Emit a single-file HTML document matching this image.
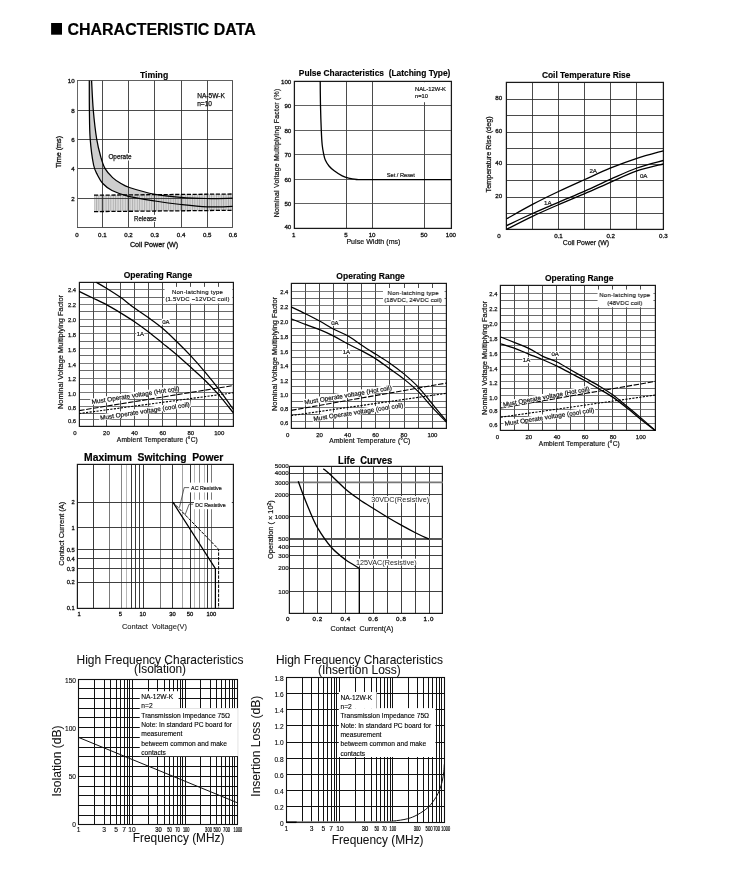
<!DOCTYPE html>
<html><head><meta charset="utf-8"><style>
html,body{margin:0;padding:0;background:#fff;}
body{width:746px;height:886px;overflow:hidden;font-family:"Liberation Sans",sans-serif;}
svg{display:block;position:absolute;left:0;top:0;filter:grayscale(1);}
svg text{font-family:"Liberation Sans",sans-serif;}
</style></head><body>
<svg width="746" height="886" viewBox="0 0 746 886">
<rect x="51.10" y="23.00" width="10.90" height="11.70" fill="#000" stroke="none" stroke-width="1" />
<text x="67.50" y="34.70" font-size="15.8" text-anchor="start" font-weight="bold" fill="#000" stroke="#000" stroke-width="0.2" textLength="188.30" lengthAdjust="spacingAndGlyphs" >CHARACTERISTIC DATA</text>
<path d="M91.60,80.60 C91.88,85.55 92.45,100.53 93.30,110.30 C94.15,120.07 95.45,131.42 96.70,139.20 C97.95,146.98 99.40,152.10 100.80,157.00 C102.20,161.90 103.13,165.17 105.10,168.60 C107.07,172.03 110.08,175.20 112.60,177.60 C115.12,180.00 117.40,181.35 120.20,183.00 C123.00,184.65 123.58,185.60 129.40,187.50 C135.22,189.40 146.52,192.75 155.10,194.40 C163.68,196.05 172.32,196.72 180.90,197.40 C189.48,198.08 197.98,198.37 206.60,198.50 C215.22,198.63 228.27,198.25 232.60,198.20 L232.60,206.40 C228.33,206.47 215.60,207.12 207.00,206.80 C198.40,206.48 189.67,205.47 181.00,204.50 C172.33,203.53 163.75,202.37 155.00,201.00 C146.25,199.63 135.67,198.05 128.50,196.30 C121.33,194.55 116.28,192.63 112.00,190.50 C107.72,188.37 105.22,186.08 102.80,183.50 C100.38,180.92 99.03,178.08 97.50,175.00 C95.97,171.92 94.82,170.98 93.60,165.00 C92.38,159.02 90.90,148.22 90.20,139.10 C89.50,129.98 89.55,120.05 89.40,110.30 C89.25,100.55 89.32,85.55 89.30,80.60 Z" fill="#c6c6c6" fill-opacity="0.85" stroke="none"/>
<defs><pattern id="hat" width="2.4" height="4" patternUnits="userSpaceOnUse"><rect width="2.4" height="4" fill="#d6d6d6"/><rect width="0.9" height="4" fill="#a4a4a4"/></pattern></defs>
<path d="M94,195.2 L232.6,194.0 L232.6,210.3 L94,211.6 Z" fill="url(#hat)" fill-opacity="0.9"/>
<line x1="102.50" y1="80.60" x2="102.50" y2="227.20" stroke="#2a2a2a" stroke-width="0.85" />
<line x1="128.50" y1="80.60" x2="128.50" y2="227.20" stroke="#2a2a2a" stroke-width="0.85" />
<line x1="154.50" y1="80.60" x2="154.50" y2="227.20" stroke="#2a2a2a" stroke-width="0.85" />
<line x1="181.50" y1="80.60" x2="181.50" y2="227.20" stroke="#2a2a2a" stroke-width="0.85" />
<line x1="207.50" y1="80.60" x2="207.50" y2="227.20" stroke="#2a2a2a" stroke-width="0.85" />
<line x1="77.00" y1="110.50" x2="232.90" y2="110.50" stroke="#2a2a2a" stroke-width="0.85" />
<line x1="77.00" y1="139.50" x2="232.90" y2="139.50" stroke="#2a2a2a" stroke-width="0.85" />
<line x1="77.00" y1="168.50" x2="232.90" y2="168.50" stroke="#2a2a2a" stroke-width="0.85" />
<line x1="77.00" y1="198.50" x2="232.90" y2="198.50" stroke="#2a2a2a" stroke-width="0.85" />
<line x1="77.50" y1="80.60" x2="77.50" y2="227.20" stroke="#666" stroke-width="1.0" />
<line x1="232.50" y1="80.60" x2="232.50" y2="227.20" stroke="#333" stroke-width="0.85" />
<line x1="77.00" y1="80.50" x2="232.90" y2="80.50" stroke="#444" stroke-width="0.85" />
<line x1="77.00" y1="227.50" x2="232.90" y2="227.50" stroke="#333" stroke-width="0.85" />
<path d="M91.60,80.60 C91.88,85.55 92.45,100.53 93.30,110.30 C94.15,120.07 95.45,131.42 96.70,139.20 C97.95,146.98 99.40,152.10 100.80,157.00 C102.20,161.90 103.13,165.17 105.10,168.60 C107.07,172.03 110.08,175.20 112.60,177.60 C115.12,180.00 117.40,181.35 120.20,183.00 C123.00,184.65 123.58,185.60 129.40,187.50 C135.22,189.40 146.52,192.75 155.10,194.40 C163.68,196.05 172.32,196.72 180.90,197.40 C189.48,198.08 197.98,198.37 206.60,198.50 C215.22,198.63 228.27,198.25 232.60,198.20" fill="none" stroke="#000" stroke-width="1.25" stroke-linejoin="round" />
<path d="M89.30,80.60 C89.32,85.55 89.25,100.55 89.40,110.30 C89.55,120.05 89.50,129.98 90.20,139.10 C90.90,148.22 92.38,159.02 93.60,165.00 C94.82,170.98 95.97,171.92 97.50,175.00 C99.03,178.08 100.38,180.92 102.80,183.50 C105.22,186.08 107.72,188.37 112.00,190.50 C116.28,192.63 121.33,194.55 128.50,196.30 C135.67,198.05 146.25,199.63 155.00,201.00 C163.75,202.37 172.33,203.53 181.00,204.50 C189.67,205.47 198.40,206.48 207.00,206.80 C215.60,207.12 228.33,206.47 232.60,206.40" fill="none" stroke="#000" stroke-width="1.25" stroke-linejoin="round" />
<line x1="94.00" y1="195.20" x2="232.60" y2="194.00" stroke="#000" stroke-width="1.3" stroke-dasharray="4.2 1.6"/>
<line x1="94.00" y1="211.60" x2="232.60" y2="210.30" stroke="#000" stroke-width="1.3" stroke-dasharray="4.2 1.6"/>
<text x="154.10" y="78.20" font-size="9.3" text-anchor="middle" font-weight="bold" fill="#000" stroke="#000" stroke-width="0.15" textLength="28.30" lengthAdjust="spacingAndGlyphs" >Timing</text>
<text x="74.60" y="83.23" font-size="6.2" text-anchor="end" font-weight="normal" fill="#111" stroke="#111" stroke-width="0.3" >10</text>
<text x="74.60" y="113.03" font-size="6.2" text-anchor="end" font-weight="normal" fill="#111" stroke="#111" stroke-width="0.3" >8</text>
<text x="74.60" y="141.83" font-size="6.2" text-anchor="end" font-weight="normal" fill="#111" stroke="#111" stroke-width="0.3" >6</text>
<text x="74.60" y="171.23" font-size="6.2" text-anchor="end" font-weight="normal" fill="#111" stroke="#111" stroke-width="0.3" >4</text>
<text x="74.60" y="200.73" font-size="6.2" text-anchor="end" font-weight="normal" fill="#111" stroke="#111" stroke-width="0.3" >2</text>
<text x="77.00" y="236.90" font-size="6.1" text-anchor="middle" font-weight="normal" fill="#111" stroke="#111" stroke-width="0.32" >0</text>
<text x="102.30" y="236.90" font-size="6.1" text-anchor="middle" font-weight="normal" fill="#111" stroke="#111" stroke-width="0.32" >0.1</text>
<text x="128.50" y="236.90" font-size="6.1" text-anchor="middle" font-weight="normal" fill="#111" stroke="#111" stroke-width="0.32" >0.2</text>
<text x="154.70" y="236.90" font-size="6.1" text-anchor="middle" font-weight="normal" fill="#111" stroke="#111" stroke-width="0.32" >0.3</text>
<text x="181.10" y="236.90" font-size="6.1" text-anchor="middle" font-weight="normal" fill="#111" stroke="#111" stroke-width="0.32" >0.4</text>
<text x="207.20" y="236.90" font-size="6.1" text-anchor="middle" font-weight="normal" fill="#111" stroke="#111" stroke-width="0.32" >0.5</text>
<text x="232.90" y="236.90" font-size="6.1" text-anchor="middle" font-weight="normal" fill="#111" stroke="#111" stroke-width="0.32" >0.6</text>
<text x="154.10" y="247.49" font-size="7.2" text-anchor="middle" font-weight="normal" fill="#111" stroke="#111" stroke-width="0.3" >Coil Power (W)</text>
<text x="61.40" y="152.00" font-size="7.2" text-anchor="middle" font-weight="normal" fill="#111" stroke="#111" stroke-width="0.3" transform="rotate(-90 61.40 152.00)" >Time (ms)</text>
<text x="197.20" y="98.28" font-size="6.6" text-anchor="start" font-weight="normal" fill="#111" stroke="#111" stroke-width="0.25" textLength="27.70" lengthAdjust="spacingAndGlyphs" >NA-5W-K</text>
<text x="197.20" y="105.98" font-size="6.6" text-anchor="start" font-weight="normal" fill="#111" stroke="#111" stroke-width="0.25" textLength="14.80" lengthAdjust="spacingAndGlyphs" >n=10</text>
<rect x="107.50" y="153.00" width="24.50" height="7.50" fill="#fff" stroke="none" stroke-width="1" />
<text x="108.40" y="159.00" font-size="6.4" text-anchor="start" font-weight="normal" fill="#111" stroke="#111" stroke-width="0.25" >Operate</text>
<rect x="132.80" y="214.80" width="23.50" height="7.20" fill="#fff" stroke="none" stroke-width="1" />
<text x="134.10" y="220.90" font-size="6.4" text-anchor="start" font-weight="normal" fill="#111" stroke="#111" stroke-width="0.25" textLength="22.40" lengthAdjust="spacingAndGlyphs" >Release</text>
<line x1="346.50" y1="81.10" x2="346.50" y2="228.00" stroke="#2a2a2a" stroke-width="0.85" />
<line x1="372.50" y1="81.10" x2="372.50" y2="228.00" stroke="#2a2a2a" stroke-width="0.85" />
<line x1="424.50" y1="81.10" x2="424.50" y2="228.00" stroke="#2a2a2a" stroke-width="0.85" />
<line x1="294.00" y1="105.50" x2="451.20" y2="105.50" stroke="#444" stroke-width="0.85" />
<line x1="294.00" y1="130.50" x2="451.20" y2="130.50" stroke="#444" stroke-width="0.85" />
<line x1="294.00" y1="154.50" x2="451.20" y2="154.50" stroke="#444" stroke-width="0.85" />
<line x1="294.00" y1="179.50" x2="451.20" y2="179.50" stroke="#444" stroke-width="0.85" />
<line x1="294.00" y1="203.50" x2="451.20" y2="203.50" stroke="#444" stroke-width="0.85" />
<rect x="294.40" y="81.40" width="157.00" height="147.00" fill="none" stroke="#1a1a1a" stroke-width="1.25" />
<rect x="412.00" y="82.20" width="37.00" height="20.00" fill="#fff" stroke="none" stroke-width="1" />
<path d="M320.20,81.10 C320.25,85.22 320.32,97.57 320.50,105.80 C320.68,114.03 321.02,123.97 321.30,130.50 C321.58,137.03 321.80,141.05 322.20,145.00 C322.60,148.95 323.18,151.70 323.70,154.20 C324.22,156.70 324.42,158.03 325.30,160.00 C326.18,161.97 327.52,164.20 329.00,166.00 C330.48,167.80 332.00,169.15 334.20,170.80 C336.40,172.45 339.80,174.67 342.20,175.90 C344.60,177.13 346.18,177.62 348.60,178.20 C351.02,178.78 353.97,179.17 356.70,179.40 C359.43,179.63 349.25,179.57 365.00,179.60 C380.75,179.63 436.83,179.60 451.20,179.60" fill="none" stroke="#000" stroke-width="1.3" stroke-linejoin="round" />
<text x="298.80" y="75.90" font-size="8.4" text-anchor="start" font-weight="bold" fill="#000" stroke="#000" stroke-width="0.15" textLength="151.60" lengthAdjust="spacingAndGlyphs" xml:space="preserve">Pulse Characteristics  (Latching Type)</text>
<text x="291.30" y="83.63" font-size="6.2" text-anchor="end" font-weight="normal" fill="#111" stroke="#111" stroke-width="0.3" >100</text>
<text x="291.30" y="108.33" font-size="6.2" text-anchor="end" font-weight="normal" fill="#111" stroke="#111" stroke-width="0.3" >90</text>
<text x="291.30" y="133.03" font-size="6.2" text-anchor="end" font-weight="normal" fill="#111" stroke="#111" stroke-width="0.3" >80</text>
<text x="291.30" y="156.73" font-size="6.2" text-anchor="end" font-weight="normal" fill="#111" stroke="#111" stroke-width="0.3" >70</text>
<text x="291.30" y="181.53" font-size="6.2" text-anchor="end" font-weight="normal" fill="#111" stroke="#111" stroke-width="0.3" >60</text>
<text x="291.30" y="206.33" font-size="6.2" text-anchor="end" font-weight="normal" fill="#111" stroke="#111" stroke-width="0.3" >50</text>
<text x="291.30" y="229.23" font-size="6.2" text-anchor="end" font-weight="normal" fill="#111" stroke="#111" stroke-width="0.3" >40</text>
<text x="293.70" y="236.53" font-size="6.2" text-anchor="middle" font-weight="normal" fill="#111" stroke="#111" stroke-width="0.3" >1</text>
<text x="345.90" y="236.53" font-size="6.2" text-anchor="middle" font-weight="normal" fill="#111" stroke="#111" stroke-width="0.3" >5</text>
<text x="372.10" y="236.53" font-size="6.2" text-anchor="middle" font-weight="normal" fill="#111" stroke="#111" stroke-width="0.3" >10</text>
<text x="424.00" y="236.53" font-size="6.2" text-anchor="middle" font-weight="normal" fill="#111" stroke="#111" stroke-width="0.3" >50</text>
<text x="450.90" y="236.53" font-size="6.2" text-anchor="middle" font-weight="normal" fill="#111" stroke="#111" stroke-width="0.3" >100</text>
<text x="373.40" y="243.82" font-size="7" text-anchor="middle" font-weight="normal" fill="#111" stroke="#111" stroke-width="0.2" textLength="54.00" lengthAdjust="spacing" >Pulse Width (ms)</text>
<text x="279.30" y="153.00" font-size="6.9" text-anchor="middle" font-weight="normal" fill="#111" stroke="#111" stroke-width="0.2" textLength="128.50" lengthAdjust="spacing" transform="rotate(-90 279.30 153.00)" >Nominal Voltage Multiplying Factor (%)</text>
<text x="415.00" y="91.33" font-size="6.2" text-anchor="start" font-weight="normal" fill="#111" stroke="#111" stroke-width="0.2" textLength="31.00" lengthAdjust="spacingAndGlyphs" >NAL-12W-K</text>
<text x="415.00" y="98.23" font-size="6.2" text-anchor="start" font-weight="normal" fill="#111" stroke="#111" stroke-width="0.2" textLength="12.90" lengthAdjust="spacingAndGlyphs" >n=10</text>
<text x="386.70" y="177.30" font-size="6.0" text-anchor="start" font-weight="normal" fill="#111" stroke="#111" stroke-width="0.2" textLength="28.10" lengthAdjust="spacingAndGlyphs" >Set / Reset</text>
<line x1="532.50" y1="82.40" x2="532.50" y2="229.60" stroke="#2a2a2a" stroke-width="0.85" />
<line x1="558.50" y1="82.40" x2="558.50" y2="229.60" stroke="#2a2a2a" stroke-width="0.85" />
<line x1="584.50" y1="82.40" x2="584.50" y2="229.60" stroke="#2a2a2a" stroke-width="0.85" />
<line x1="610.50" y1="82.40" x2="610.50" y2="229.60" stroke="#2a2a2a" stroke-width="0.85" />
<line x1="636.50" y1="82.40" x2="636.50" y2="229.60" stroke="#2a2a2a" stroke-width="0.85" />
<line x1="506.50" y1="99.50" x2="663.30" y2="99.50" stroke="#2a2a2a" stroke-width="0.85" />
<line x1="506.50" y1="115.50" x2="663.30" y2="115.50" stroke="#2a2a2a" stroke-width="0.85" />
<line x1="506.50" y1="132.50" x2="663.30" y2="132.50" stroke="#2a2a2a" stroke-width="0.85" />
<line x1="506.50" y1="148.50" x2="663.30" y2="148.50" stroke="#2a2a2a" stroke-width="0.85" />
<line x1="506.50" y1="164.50" x2="663.30" y2="164.50" stroke="#2a2a2a" stroke-width="0.85" />
<line x1="506.50" y1="180.50" x2="663.30" y2="180.50" stroke="#2a2a2a" stroke-width="0.85" />
<line x1="506.50" y1="197.50" x2="663.30" y2="197.50" stroke="#2a2a2a" stroke-width="0.85" />
<line x1="506.50" y1="213.50" x2="663.30" y2="213.50" stroke="#2a2a2a" stroke-width="0.85" />
<rect x="506.40" y="82.40" width="157.00" height="147.00" fill="none" stroke="#1a1a1a" stroke-width="1.25" />
<path d="M506.60,218.80 C510.92,216.40 523.85,208.95 532.50,204.40 C541.15,199.85 549.78,195.65 558.50,191.50 C567.22,187.35 576.08,183.43 584.80,179.50 C593.52,175.57 602.12,171.43 610.80,167.90 C619.48,164.37 628.15,161.15 636.90,158.30 C645.65,155.45 658.90,152.05 663.30,150.80" fill="none" stroke="#000" stroke-width="1.3" stroke-linejoin="round" />
<path d="M506.60,225.60 C510.92,223.58 523.85,217.38 532.50,213.50 C541.15,209.62 549.78,206.02 558.50,202.30 C567.22,198.58 576.08,195.05 584.80,191.20 C593.52,187.35 602.12,183.07 610.80,179.20 C619.48,175.33 628.15,171.12 636.90,168.00 C645.65,164.88 658.90,161.75 663.30,160.50" fill="none" stroke="#000" stroke-width="1.3" stroke-linejoin="round" />
<path d="M506.60,229.30 C510.92,227.13 523.85,220.40 532.50,216.30 C541.15,212.20 549.78,208.47 558.50,204.70 C567.22,200.93 576.08,197.47 584.80,193.70 C593.52,189.93 602.12,185.90 610.80,182.10 C619.48,178.30 628.15,173.92 636.90,170.90 C645.65,167.88 658.90,165.15 663.30,164.00" fill="none" stroke="#000" stroke-width="1.3" stroke-linejoin="round" />
<text x="541.90" y="77.50" font-size="8.4" text-anchor="start" font-weight="bold" fill="#000" stroke="#000" stroke-width="0.15" textLength="88.50" lengthAdjust="spacingAndGlyphs" >Coil Temperature Rise</text>
<text x="502.20" y="100.03" font-size="6.2" text-anchor="end" font-weight="normal" fill="#111" stroke="#111" stroke-width="0.3" >80</text>
<text x="502.20" y="132.93" font-size="6.2" text-anchor="end" font-weight="normal" fill="#111" stroke="#111" stroke-width="0.3" >60</text>
<text x="502.20" y="165.33" font-size="6.2" text-anchor="end" font-weight="normal" fill="#111" stroke="#111" stroke-width="0.3" >40</text>
<text x="502.20" y="198.13" font-size="6.2" text-anchor="end" font-weight="normal" fill="#111" stroke="#111" stroke-width="0.3" >20</text>
<text x="499.00" y="237.83" font-size="6.2" text-anchor="middle" font-weight="normal" fill="#111" stroke="#111" stroke-width="0.3" >0</text>
<text x="558.50" y="237.63" font-size="6.2" text-anchor="middle" font-weight="normal" fill="#111" stroke="#111" stroke-width="0.3" >0.1</text>
<text x="610.70" y="237.63" font-size="6.2" text-anchor="middle" font-weight="normal" fill="#111" stroke="#111" stroke-width="0.3" >0.2</text>
<text x="663.30" y="237.63" font-size="6.2" text-anchor="middle" font-weight="normal" fill="#111" stroke="#111" stroke-width="0.3" >0.3</text>
<text x="585.90" y="244.98" font-size="6.9" text-anchor="middle" font-weight="normal" fill="#111" stroke="#111" stroke-width="0.25" >Coil Power (W)</text>
<text x="491.40" y="154.40" font-size="7" text-anchor="middle" font-weight="normal" fill="#111" stroke="#111" stroke-width="0.25" textLength="76.00" lengthAdjust="spacingAndGlyphs" transform="rotate(-90 491.40 154.40)" >Temperature Rise (deg)</text>
<text x="589.40" y="173.13" font-size="6.2" text-anchor="start" font-weight="normal" fill="#111" stroke="#111" stroke-width="0.2" >2A</text>
<text x="544.10" y="204.53" font-size="6.2" text-anchor="start" font-weight="normal" fill="#111" stroke="#111" stroke-width="0.2" >1A</text>
<text x="639.90" y="177.53" font-size="6.2" text-anchor="start" font-weight="normal" fill="#111" stroke="#111" stroke-width="0.2" >0A</text>
<line x1="93.50" y1="282.30" x2="93.50" y2="426.90" stroke="#2a2a2a" stroke-width="0.85" />
<line x1="106.50" y1="282.30" x2="106.50" y2="426.90" stroke="#2a2a2a" stroke-width="0.85" />
<line x1="120.50" y1="282.30" x2="120.50" y2="426.90" stroke="#2a2a2a" stroke-width="0.85" />
<line x1="134.50" y1="282.30" x2="134.50" y2="426.90" stroke="#2a2a2a" stroke-width="0.85" />
<line x1="148.50" y1="282.30" x2="148.50" y2="426.90" stroke="#2a2a2a" stroke-width="0.85" />
<line x1="162.50" y1="282.30" x2="162.50" y2="426.90" stroke="#2a2a2a" stroke-width="0.85" />
<line x1="176.50" y1="282.30" x2="176.50" y2="426.90" stroke="#2a2a2a" stroke-width="0.85" />
<line x1="190.50" y1="282.30" x2="190.50" y2="426.90" stroke="#2a2a2a" stroke-width="0.85" />
<line x1="204.50" y1="282.30" x2="204.50" y2="426.90" stroke="#2a2a2a" stroke-width="0.85" />
<line x1="218.50" y1="282.30" x2="218.50" y2="426.90" stroke="#2a2a2a" stroke-width="0.85" />
<line x1="79.20" y1="289.50" x2="233.40" y2="289.50" stroke="#5a5a5a" stroke-width="0.8" />
<line x1="79.20" y1="297.50" x2="233.40" y2="297.50" stroke="#444" stroke-width="0.8" />
<line x1="79.20" y1="304.50" x2="233.40" y2="304.50" stroke="#5a5a5a" stroke-width="0.8" />
<line x1="79.20" y1="311.50" x2="233.40" y2="311.50" stroke="#444" stroke-width="0.8" />
<line x1="79.20" y1="319.50" x2="233.40" y2="319.50" stroke="#5a5a5a" stroke-width="0.8" />
<line x1="79.20" y1="326.50" x2="233.40" y2="326.50" stroke="#444" stroke-width="0.8" />
<line x1="79.20" y1="333.50" x2="233.40" y2="333.50" stroke="#5a5a5a" stroke-width="0.8" />
<line x1="79.20" y1="341.50" x2="233.40" y2="341.50" stroke="#444" stroke-width="0.8" />
<line x1="79.20" y1="348.50" x2="233.40" y2="348.50" stroke="#5a5a5a" stroke-width="0.8" />
<line x1="79.20" y1="355.50" x2="233.40" y2="355.50" stroke="#444" stroke-width="0.8" />
<line x1="79.20" y1="363.50" x2="233.40" y2="363.50" stroke="#5a5a5a" stroke-width="0.8" />
<line x1="79.20" y1="370.50" x2="233.40" y2="370.50" stroke="#444" stroke-width="0.8" />
<line x1="79.20" y1="378.50" x2="233.40" y2="378.50" stroke="#5a5a5a" stroke-width="0.8" />
<line x1="79.20" y1="384.50" x2="233.40" y2="384.50" stroke="#444" stroke-width="0.8" />
<line x1="79.20" y1="392.50" x2="233.40" y2="392.50" stroke="#5a5a5a" stroke-width="0.8" />
<line x1="79.20" y1="399.50" x2="233.40" y2="399.50" stroke="#444" stroke-width="0.8" />
<line x1="79.20" y1="406.50" x2="233.40" y2="406.50" stroke="#5a5a5a" stroke-width="0.8" />
<line x1="79.20" y1="413.50" x2="233.40" y2="413.50" stroke="#444" stroke-width="0.8" />
<line x1="79.20" y1="419.50" x2="233.40" y2="419.50" stroke="#5a5a5a" stroke-width="0.8" />
<rect x="79.40" y="282.40" width="154.00" height="144.00" fill="none" stroke="#1a1a1a" stroke-width="1.2" />
<rect x="164.57" y="286.85" width="67.68" height="16.64" fill="#fff" stroke="none" stroke-width="1" />
<text x="197.39" y="293.64" font-size="6.0" text-anchor="middle" font-weight="normal" fill="#111" stroke="#111" stroke-width="0.15" textLength="51.00" lengthAdjust="spacing" >Non-latching type</text>
<text x="197.39" y="301.16" font-size="6.0" text-anchor="middle" font-weight="normal" fill="#111" stroke="#111" stroke-width="0.15" textLength="64.00" lengthAdjust="spacing" >(1.5VDC ~12VDC coil)</text>
<line x1="79.12" y1="410.59" x2="233.39" y2="385.52" stroke="#000" stroke-width="1.1" stroke-dasharray="5.5 1.6"/>
<line x1="79.12" y1="413.55" x2="233.39" y2="392.82" stroke="#000" stroke-width="1.1" stroke-dasharray="2.2 1.3"/>
<g transform="translate(91.65 401.93) rotate(-8.86)">
<rect x="-1.00" y="-3.30" width="90.79" height="6.20" fill="#fff" stroke="none" stroke-width="1" />
<text x="0.00" y="2.20" font-size="6.3" text-anchor="start" font-weight="normal" fill="#111" stroke="#111" stroke-width="0.2" textLength="88.79" lengthAdjust="spacingAndGlyphs" >Must Operate voltage (Hot coil)</text>
</g>
<g transform="translate(100.08 417.88) rotate(-8.68)">
<rect x="-1.00" y="-3.30" width="92.60" height="6.20" fill="#fff" stroke="none" stroke-width="1" />
<text x="0.00" y="2.20" font-size="6.3" text-anchor="start" font-weight="normal" fill="#111" stroke="#111" stroke-width="0.2" textLength="90.60" lengthAdjust="spacingAndGlyphs" >Must Operate voltage (cool coil)</text>
</g>
<path d="M96.21,282.29 C97.92,283.28 102.47,285.75 106.46,288.22 C110.45,290.69 115.46,293.80 120.13,297.10 C124.81,300.41 129.74,304.59 134.49,308.04 C139.24,311.50 143.91,314.42 148.62,317.84 C153.33,321.26 158.08,324.60 162.75,328.55 C167.42,332.50 171.98,336.98 176.65,341.54 C181.32,346.10 186.07,350.85 190.78,355.90 C195.49,360.95 200.27,366.34 204.91,371.85 C209.54,377.36 213.83,382.68 218.58,388.94 C223.33,395.21 230.92,406.03 233.39,409.45" fill="none" stroke="#000" stroke-width="1.25" stroke-linejoin="round" />
<path d="M79.12,291.41 C81.32,292.47 87.77,295.59 92.33,297.79 C96.89,299.99 101.83,302.16 106.46,304.62 C111.10,307.09 115.46,309.75 120.13,312.60 C124.81,315.45 129.74,318.49 134.49,321.72 C139.24,324.94 143.91,328.36 148.62,331.97 C153.33,335.58 158.08,339.57 162.75,343.37 C167.42,347.16 171.98,350.77 176.65,354.76 C181.32,358.75 186.07,363.04 190.78,367.29 C195.49,371.55 200.27,375.72 204.91,380.28 C209.54,384.84 213.83,389.21 218.58,394.64 C223.33,400.07 230.92,409.83 233.39,412.87" fill="none" stroke="#000" stroke-width="1.25" stroke-linejoin="round" />
<rect x="161.79" y="318.72" width="8.00" height="6.00" fill="#fff" stroke="none" stroke-width="1" />
<text x="162.29" y="323.88" font-size="6.0" text-anchor="start" font-weight="normal" fill="#111" stroke="#111" stroke-width="0.2" >0A</text>
<rect x="136.27" y="330.79" width="8.00" height="6.00" fill="#fff" stroke="none" stroke-width="1" />
<text x="136.77" y="335.95" font-size="6.0" text-anchor="start" font-weight="normal" fill="#111" stroke="#111" stroke-width="0.2" >1A</text>
<text x="157.90" y="278.20" font-size="8.6" text-anchor="middle" font-weight="bold" fill="#000" stroke="#000" stroke-width="0.15" textLength="68.50" lengthAdjust="spacingAndGlyphs" >Operating Range</text>
<text x="76.10" y="292.26" font-size="6.0" text-anchor="end" font-weight="normal" fill="#111" stroke="#111" stroke-width="0.25" textLength="8.10" lengthAdjust="spacingAndGlyphs" >2.4</text>
<text x="76.10" y="307.06" font-size="6.0" text-anchor="end" font-weight="normal" fill="#111" stroke="#111" stroke-width="0.25" textLength="8.10" lengthAdjust="spacingAndGlyphs" >2.2</text>
<text x="76.10" y="321.86" font-size="6.0" text-anchor="end" font-weight="normal" fill="#111" stroke="#111" stroke-width="0.25" textLength="8.10" lengthAdjust="spacingAndGlyphs" >2.0</text>
<text x="76.10" y="336.86" font-size="6.0" text-anchor="end" font-weight="normal" fill="#111" stroke="#111" stroke-width="0.25" textLength="8.10" lengthAdjust="spacingAndGlyphs" >1.8</text>
<text x="76.10" y="351.86" font-size="6.0" text-anchor="end" font-weight="normal" fill="#111" stroke="#111" stroke-width="0.25" textLength="8.10" lengthAdjust="spacingAndGlyphs" >1.6</text>
<text x="76.10" y="366.66" font-size="6.0" text-anchor="end" font-weight="normal" fill="#111" stroke="#111" stroke-width="0.25" textLength="8.10" lengthAdjust="spacingAndGlyphs" >1.4</text>
<text x="76.10" y="381.46" font-size="6.0" text-anchor="end" font-weight="normal" fill="#111" stroke="#111" stroke-width="0.25" textLength="8.10" lengthAdjust="spacingAndGlyphs" >1.2</text>
<text x="76.10" y="395.86" font-size="6.0" text-anchor="end" font-weight="normal" fill="#111" stroke="#111" stroke-width="0.25" textLength="8.10" lengthAdjust="spacingAndGlyphs" >1.0</text>
<text x="76.10" y="409.66" font-size="6.0" text-anchor="end" font-weight="normal" fill="#111" stroke="#111" stroke-width="0.25" textLength="8.10" lengthAdjust="spacingAndGlyphs" >0.8</text>
<text x="76.10" y="423.16" font-size="6.0" text-anchor="end" font-weight="normal" fill="#111" stroke="#111" stroke-width="0.25" textLength="8.10" lengthAdjust="spacingAndGlyphs" >0.6</text>
<text x="106.46" y="434.86" font-size="6.0" text-anchor="middle" font-weight="normal" fill="#111" stroke="#111" stroke-width="0.25" >20</text>
<text x="134.49" y="434.86" font-size="6.0" text-anchor="middle" font-weight="normal" fill="#111" stroke="#111" stroke-width="0.25" >40</text>
<text x="162.75" y="434.86" font-size="6.0" text-anchor="middle" font-weight="normal" fill="#111" stroke="#111" stroke-width="0.25" >60</text>
<text x="190.78" y="434.86" font-size="6.0" text-anchor="middle" font-weight="normal" fill="#111" stroke="#111" stroke-width="0.25" >80</text>
<text x="219.26" y="434.86" font-size="6.0" text-anchor="middle" font-weight="normal" fill="#111" stroke="#111" stroke-width="0.25" >100</text>
<text x="75.00" y="434.86" font-size="6.0" text-anchor="middle" font-weight="normal" fill="#111" stroke="#111" stroke-width="0.25" >0</text>
<text x="157.30" y="441.95" font-size="6.6" text-anchor="middle" font-weight="normal" fill="#111" stroke="#111" stroke-width="0.2" textLength="81.00" lengthAdjust="spacing" >Ambient Temperature (°C)</text>
<text x="63.40" y="352.00" font-size="6.8" text-anchor="middle" font-weight="normal" fill="#111" stroke="#111" stroke-width="0.2" textLength="114.00" lengthAdjust="spacingAndGlyphs" transform="rotate(-90 63.40 352.00)" >Nominal Voltage Multiplying Factor</text>
<line x1="305.50" y1="283.60" x2="305.50" y2="428.30" stroke="#2a2a2a" stroke-width="0.85" />
<line x1="319.50" y1="283.60" x2="319.50" y2="428.30" stroke="#2a2a2a" stroke-width="0.85" />
<line x1="333.50" y1="283.60" x2="333.50" y2="428.30" stroke="#2a2a2a" stroke-width="0.85" />
<line x1="347.50" y1="283.60" x2="347.50" y2="428.30" stroke="#2a2a2a" stroke-width="0.85" />
<line x1="361.50" y1="283.60" x2="361.50" y2="428.30" stroke="#2a2a2a" stroke-width="0.85" />
<line x1="375.50" y1="283.60" x2="375.50" y2="428.30" stroke="#2a2a2a" stroke-width="0.85" />
<line x1="389.50" y1="283.60" x2="389.50" y2="428.30" stroke="#2a2a2a" stroke-width="0.85" />
<line x1="404.50" y1="283.60" x2="404.50" y2="428.30" stroke="#2a2a2a" stroke-width="0.85" />
<line x1="418.50" y1="283.60" x2="418.50" y2="428.30" stroke="#2a2a2a" stroke-width="0.85" />
<line x1="432.50" y1="283.60" x2="432.50" y2="428.30" stroke="#2a2a2a" stroke-width="0.85" />
<line x1="291.20" y1="291.50" x2="446.80" y2="291.50" stroke="#5a5a5a" stroke-width="0.8" />
<line x1="291.20" y1="298.50" x2="446.80" y2="298.50" stroke="#444" stroke-width="0.8" />
<line x1="291.20" y1="305.50" x2="446.80" y2="305.50" stroke="#5a5a5a" stroke-width="0.8" />
<line x1="291.20" y1="313.50" x2="446.80" y2="313.50" stroke="#444" stroke-width="0.8" />
<line x1="291.20" y1="320.50" x2="446.80" y2="320.50" stroke="#5a5a5a" stroke-width="0.8" />
<line x1="291.20" y1="328.50" x2="446.80" y2="328.50" stroke="#444" stroke-width="0.8" />
<line x1="291.20" y1="335.50" x2="446.80" y2="335.50" stroke="#5a5a5a" stroke-width="0.8" />
<line x1="291.20" y1="342.50" x2="446.80" y2="342.50" stroke="#444" stroke-width="0.8" />
<line x1="291.20" y1="350.50" x2="446.80" y2="350.50" stroke="#5a5a5a" stroke-width="0.8" />
<line x1="291.20" y1="357.50" x2="446.80" y2="357.50" stroke="#444" stroke-width="0.8" />
<line x1="291.20" y1="364.50" x2="446.80" y2="364.50" stroke="#5a5a5a" stroke-width="0.8" />
<line x1="291.20" y1="371.50" x2="446.80" y2="371.50" stroke="#444" stroke-width="0.8" />
<line x1="291.20" y1="379.50" x2="446.80" y2="379.50" stroke="#5a5a5a" stroke-width="0.8" />
<line x1="291.20" y1="386.50" x2="446.80" y2="386.50" stroke="#444" stroke-width="0.8" />
<line x1="291.20" y1="393.50" x2="446.80" y2="393.50" stroke="#5a5a5a" stroke-width="0.8" />
<line x1="291.20" y1="401.50" x2="446.80" y2="401.50" stroke="#444" stroke-width="0.8" />
<line x1="291.20" y1="407.50" x2="446.80" y2="407.50" stroke="#5a5a5a" stroke-width="0.8" />
<line x1="291.20" y1="414.50" x2="446.80" y2="414.50" stroke="#444" stroke-width="0.8" />
<line x1="291.20" y1="421.50" x2="446.80" y2="421.50" stroke="#5a5a5a" stroke-width="0.8" />
<rect x="291.40" y="283.40" width="155.00" height="145.00" fill="none" stroke="#1a1a1a" stroke-width="1.2" />
<rect x="382.99" y="287.98" width="61.53" height="17.09" fill="#fff" stroke="none" stroke-width="1" />
<text x="413.07" y="294.77" font-size="6.0" text-anchor="middle" font-weight="normal" fill="#111" stroke="#111" stroke-width="0.15" textLength="51.00" lengthAdjust="spacing" >Non-latching type</text>
<text x="413.07" y="302.29" font-size="6.0" text-anchor="middle" font-weight="normal" fill="#111" stroke="#111" stroke-width="0.15" textLength="57.50" lengthAdjust="spacing" >(18VDC, 24VDC coil)</text>
<line x1="291.15" y1="410.35" x2="446.80" y2="383.00" stroke="#000" stroke-width="1.1" stroke-dasharray="5.5 1.6"/>
<line x1="291.15" y1="415.59" x2="446.80" y2="393.26" stroke="#000" stroke-width="1.1" stroke-dasharray="2.2 1.3"/>
<g transform="translate(304.37 402.37) rotate(-9.63)">
<rect x="-1.00" y="-3.30" width="90.53" height="6.20" fill="#fff" stroke="none" stroke-width="1" />
<text x="0.00" y="2.20" font-size="6.3" text-anchor="start" font-weight="normal" fill="#111" stroke="#111" stroke-width="0.2" textLength="88.53" lengthAdjust="spacingAndGlyphs" >Must Operate voltage (Hot coil)</text>
</g>
<g transform="translate(313.49 418.78) rotate(-8.68)">
<rect x="-1.00" y="-3.30" width="92.60" height="6.20" fill="#fff" stroke="none" stroke-width="1" />
<text x="0.00" y="2.20" font-size="6.3" text-anchor="start" font-weight="normal" fill="#111" stroke="#111" stroke-width="0.2" textLength="90.60" lengthAdjust="spacingAndGlyphs" >Must Operate voltage (cool coil)</text>
</g>
<path d="M291.15,306.89 C293.55,308.03 300.76,311.37 305.51,313.73 C310.26,316.08 315.00,318.47 319.64,321.02 C324.27,323.56 328.64,326.53 333.31,329.00 C337.98,331.46 343.00,333.17 347.67,335.83 C352.34,338.49 356.71,341.91 361.34,344.95 C365.97,347.99 370.72,351.02 375.47,354.06 C380.22,357.10 385.08,359.87 389.83,363.18 C394.57,366.48 399.21,369.90 403.96,373.89 C408.70,377.88 413.56,382.05 418.31,387.11 C423.06,392.16 427.69,398.50 432.44,404.20 C437.19,409.89 444.40,418.44 446.80,421.29" fill="none" stroke="#000" stroke-width="1.25" stroke-linejoin="round" />
<path d="M291.15,318.74 C293.55,319.69 300.76,322.61 305.51,324.44 C310.26,326.26 315.00,327.78 319.64,329.68 C324.27,331.58 328.64,333.48 333.31,335.83 C337.98,338.19 343.00,341.34 347.67,343.81 C352.34,346.28 356.71,348.18 361.34,350.64 C365.97,353.11 370.72,355.58 375.47,358.62 C380.22,361.66 385.08,365.46 389.83,368.87 C394.57,372.29 399.21,375.33 403.96,379.13 C408.70,382.93 413.56,386.92 418.31,391.66 C423.06,396.41 427.69,402.49 432.44,407.61 C437.19,412.74 444.40,419.96 446.80,422.43" fill="none" stroke="#000" stroke-width="1.25" stroke-linejoin="round" />
<rect x="330.76" y="319.84" width="8.00" height="6.00" fill="#fff" stroke="none" stroke-width="1" />
<text x="331.26" y="325.00" font-size="6.0" text-anchor="start" font-weight="normal" fill="#111" stroke="#111" stroke-width="0.2" >0A</text>
<rect x="342.15" y="348.78" width="8.00" height="6.00" fill="#fff" stroke="none" stroke-width="1" />
<text x="342.65" y="353.94" font-size="6.0" text-anchor="start" font-weight="normal" fill="#111" stroke="#111" stroke-width="0.2" >1A</text>
<text x="370.60" y="279.00" font-size="8.6" text-anchor="middle" font-weight="bold" fill="#000" stroke="#000" stroke-width="0.15" textLength="68.50" lengthAdjust="spacingAndGlyphs" >Operating Range</text>
<text x="288.30" y="294.46" font-size="6.0" text-anchor="end" font-weight="normal" fill="#111" stroke="#111" stroke-width="0.25" textLength="8.10" lengthAdjust="spacingAndGlyphs" >2.4</text>
<text x="288.30" y="309.26" font-size="6.0" text-anchor="end" font-weight="normal" fill="#111" stroke="#111" stroke-width="0.25" textLength="8.10" lengthAdjust="spacingAndGlyphs" >2.2</text>
<text x="288.30" y="323.86" font-size="6.0" text-anchor="end" font-weight="normal" fill="#111" stroke="#111" stroke-width="0.25" textLength="8.10" lengthAdjust="spacingAndGlyphs" >2.0</text>
<text x="288.30" y="338.66" font-size="6.0" text-anchor="end" font-weight="normal" fill="#111" stroke="#111" stroke-width="0.25" textLength="8.10" lengthAdjust="spacingAndGlyphs" >1.8</text>
<text x="288.30" y="353.96" font-size="6.0" text-anchor="end" font-weight="normal" fill="#111" stroke="#111" stroke-width="0.25" textLength="8.10" lengthAdjust="spacingAndGlyphs" >1.6</text>
<text x="288.30" y="368.46" font-size="6.0" text-anchor="end" font-weight="normal" fill="#111" stroke="#111" stroke-width="0.25" textLength="8.10" lengthAdjust="spacingAndGlyphs" >1.4</text>
<text x="288.30" y="382.86" font-size="6.0" text-anchor="end" font-weight="normal" fill="#111" stroke="#111" stroke-width="0.25" textLength="8.10" lengthAdjust="spacingAndGlyphs" >1.2</text>
<text x="288.30" y="397.36" font-size="6.0" text-anchor="end" font-weight="normal" fill="#111" stroke="#111" stroke-width="0.25" textLength="8.10" lengthAdjust="spacingAndGlyphs" >1.0</text>
<text x="288.30" y="411.46" font-size="6.0" text-anchor="end" font-weight="normal" fill="#111" stroke="#111" stroke-width="0.25" textLength="8.10" lengthAdjust="spacingAndGlyphs" >0.8</text>
<text x="288.30" y="425.36" font-size="6.0" text-anchor="end" font-weight="normal" fill="#111" stroke="#111" stroke-width="0.25" textLength="8.10" lengthAdjust="spacingAndGlyphs" >0.6</text>
<text x="319.64" y="436.66" font-size="6.0" text-anchor="middle" font-weight="normal" fill="#111" stroke="#111" stroke-width="0.25" >20</text>
<text x="347.67" y="436.66" font-size="6.0" text-anchor="middle" font-weight="normal" fill="#111" stroke="#111" stroke-width="0.25" >40</text>
<text x="375.47" y="436.66" font-size="6.0" text-anchor="middle" font-weight="normal" fill="#111" stroke="#111" stroke-width="0.25" >60</text>
<text x="403.96" y="436.66" font-size="6.0" text-anchor="middle" font-weight="normal" fill="#111" stroke="#111" stroke-width="0.25" >80</text>
<text x="432.44" y="436.66" font-size="6.0" text-anchor="middle" font-weight="normal" fill="#111" stroke="#111" stroke-width="0.25" >100</text>
<text x="287.70" y="436.66" font-size="6.0" text-anchor="middle" font-weight="normal" fill="#111" stroke="#111" stroke-width="0.25" >0</text>
<text x="369.80" y="443.05" font-size="6.6" text-anchor="middle" font-weight="normal" fill="#111" stroke="#111" stroke-width="0.2" textLength="81.00" lengthAdjust="spacing" >Ambient Temperature (°C)</text>
<text x="277.20" y="354.00" font-size="6.8" text-anchor="middle" font-weight="normal" fill="#111" stroke="#111" stroke-width="0.2" textLength="114.00" lengthAdjust="spacingAndGlyphs" transform="rotate(-90 277.20 354.00)" >Nominal Voltage Multiplying Factor</text>
<line x1="514.50" y1="285.60" x2="514.50" y2="430.10" stroke="#2a2a2a" stroke-width="0.85" />
<line x1="528.50" y1="285.60" x2="528.50" y2="430.10" stroke="#2a2a2a" stroke-width="0.85" />
<line x1="542.50" y1="285.60" x2="542.50" y2="430.10" stroke="#2a2a2a" stroke-width="0.85" />
<line x1="556.50" y1="285.60" x2="556.50" y2="430.10" stroke="#2a2a2a" stroke-width="0.85" />
<line x1="570.50" y1="285.60" x2="570.50" y2="430.10" stroke="#2a2a2a" stroke-width="0.85" />
<line x1="584.50" y1="285.60" x2="584.50" y2="430.10" stroke="#2a2a2a" stroke-width="0.85" />
<line x1="598.50" y1="285.60" x2="598.50" y2="430.10" stroke="#2a2a2a" stroke-width="0.85" />
<line x1="612.50" y1="285.60" x2="612.50" y2="430.10" stroke="#2a2a2a" stroke-width="0.85" />
<line x1="626.50" y1="285.60" x2="626.50" y2="430.10" stroke="#2a2a2a" stroke-width="0.85" />
<line x1="640.50" y1="285.60" x2="640.50" y2="430.10" stroke="#2a2a2a" stroke-width="0.85" />
<line x1="500.70" y1="293.50" x2="655.40" y2="293.50" stroke="#5a5a5a" stroke-width="0.8" />
<line x1="500.70" y1="300.50" x2="655.40" y2="300.50" stroke="#444" stroke-width="0.8" />
<line x1="500.70" y1="308.50" x2="655.40" y2="308.50" stroke="#5a5a5a" stroke-width="0.8" />
<line x1="500.70" y1="315.50" x2="655.40" y2="315.50" stroke="#444" stroke-width="0.8" />
<line x1="500.70" y1="322.50" x2="655.40" y2="322.50" stroke="#5a5a5a" stroke-width="0.8" />
<line x1="500.70" y1="330.50" x2="655.40" y2="330.50" stroke="#444" stroke-width="0.8" />
<line x1="500.70" y1="337.50" x2="655.40" y2="337.50" stroke="#5a5a5a" stroke-width="0.8" />
<line x1="500.70" y1="345.50" x2="655.40" y2="345.50" stroke="#444" stroke-width="0.8" />
<line x1="500.70" y1="352.50" x2="655.40" y2="352.50" stroke="#5a5a5a" stroke-width="0.8" />
<line x1="500.70" y1="359.50" x2="655.40" y2="359.50" stroke="#444" stroke-width="0.8" />
<line x1="500.70" y1="366.50" x2="655.40" y2="366.50" stroke="#5a5a5a" stroke-width="0.8" />
<line x1="500.70" y1="374.50" x2="655.40" y2="374.50" stroke="#444" stroke-width="0.8" />
<line x1="500.70" y1="381.50" x2="655.40" y2="381.50" stroke="#5a5a5a" stroke-width="0.8" />
<line x1="500.70" y1="388.50" x2="655.40" y2="388.50" stroke="#444" stroke-width="0.8" />
<line x1="500.70" y1="395.50" x2="655.40" y2="395.50" stroke="#5a5a5a" stroke-width="0.8" />
<line x1="500.70" y1="402.50" x2="655.40" y2="402.50" stroke="#444" stroke-width="0.8" />
<line x1="500.70" y1="409.50" x2="655.40" y2="409.50" stroke="#5a5a5a" stroke-width="0.8" />
<line x1="500.70" y1="416.50" x2="655.40" y2="416.50" stroke="#444" stroke-width="0.8" />
<line x1="500.70" y1="423.50" x2="655.40" y2="423.50" stroke="#5a5a5a" stroke-width="0.8" />
<rect x="500.40" y="285.40" width="155.00" height="145.00" fill="none" stroke="#1a1a1a" stroke-width="1.2" />
<rect x="597.55" y="289.57" width="55.83" height="17.77" fill="#fff" stroke="none" stroke-width="1" />
<text x="624.67" y="297.04" font-size="6.0" text-anchor="middle" font-weight="normal" fill="#111" stroke="#111" stroke-width="0.15" textLength="51.00" lengthAdjust="spacing" >Non-latching type</text>
<text x="624.67" y="304.56" font-size="6.0" text-anchor="middle" font-weight="normal" fill="#111" stroke="#111" stroke-width="0.15" textLength="35.00" lengthAdjust="spacing" >(48VDC coil)</text>
<line x1="500.70" y1="408.07" x2="655.20" y2="381.41" stroke="#000" stroke-width="1.1" stroke-dasharray="5.5 1.6"/>
<line x1="500.70" y1="417.19" x2="655.20" y2="395.08" stroke="#000" stroke-width="1.1" stroke-dasharray="2.2 1.3"/>
<g transform="translate(502.98 404.65) rotate(-10.44)">
<rect x="-1.00" y="-3.30" width="90.05" height="6.20" fill="#fff" stroke="none" stroke-width="1" />
<text x="0.00" y="2.20" font-size="6.3" text-anchor="start" font-weight="normal" fill="#111" stroke="#111" stroke-width="0.2" textLength="88.05" lengthAdjust="spacingAndGlyphs" >Must Operate voltage (Hot coil)</text>
</g>
<g transform="translate(504.57 423.57) rotate(-8.68)">
<rect x="-1.00" y="-3.30" width="92.60" height="6.20" fill="#fff" stroke="none" stroke-width="1" />
<text x="0.00" y="2.20" font-size="6.3" text-anchor="start" font-weight="normal" fill="#111" stroke="#111" stroke-width="0.2" textLength="90.60" lengthAdjust="spacingAndGlyphs" >Must Operate voltage (cool coil)</text>
</g>
<path d="M500.70,336.97 C503.05,337.92 510.15,340.77 514.83,342.67 C519.50,344.57 524.06,346.09 528.73,348.37 C533.40,350.64 538.15,354.06 542.86,356.34 C547.57,358.62 552.31,359.76 556.98,362.04 C561.66,364.32 566.21,367.36 570.89,370.01 C575.56,372.67 580.30,375.33 585.01,377.99 C589.72,380.65 594.47,383.12 599.14,385.97 C603.81,388.81 608.37,391.66 613.04,395.08 C617.72,398.50 622.54,402.68 627.17,406.48 C631.81,410.27 636.17,413.88 640.85,417.87 C645.52,421.86 652.81,428.31 655.20,430.40" fill="none" stroke="#000" stroke-width="1.25" stroke-linejoin="round" />
<path d="M500.70,343.81 C503.05,344.57 510.15,346.66 514.83,348.37 C519.50,350.07 524.06,352.16 528.73,354.06 C533.40,355.96 538.15,357.75 542.86,359.76 C547.57,361.77 552.31,363.86 556.98,366.14 C561.66,368.42 566.21,371.00 570.89,373.43 C575.56,375.86 580.30,378.14 585.01,380.72 C589.72,383.31 594.47,386.16 599.14,388.93 C603.81,391.70 608.37,394.17 613.04,397.36 C617.72,400.55 622.54,404.39 627.17,408.07 C631.81,411.75 636.17,415.74 640.85,419.46 C645.52,423.19 652.81,428.58 655.20,430.40" fill="none" stroke="#000" stroke-width="1.25" stroke-linejoin="round" />
<rect x="551.02" y="351.06" width="8.00" height="6.00" fill="#fff" stroke="none" stroke-width="1" />
<text x="551.52" y="356.22" font-size="6.0" text-anchor="start" font-weight="normal" fill="#111" stroke="#111" stroke-width="0.2" >0A</text>
<rect x="522.30" y="357.22" width="8.00" height="6.00" fill="#fff" stroke="none" stroke-width="1" />
<text x="522.80" y="362.38" font-size="6.0" text-anchor="start" font-weight="normal" fill="#111" stroke="#111" stroke-width="0.2" >1A</text>
<text x="579.20" y="280.70" font-size="8.6" text-anchor="middle" font-weight="bold" fill="#000" stroke="#000" stroke-width="0.15" textLength="68.50" lengthAdjust="spacingAndGlyphs" >Operating Range</text>
<text x="497.40" y="296.26" font-size="6.0" text-anchor="end" font-weight="normal" fill="#111" stroke="#111" stroke-width="0.25" textLength="8.10" lengthAdjust="spacingAndGlyphs" >2.4</text>
<text x="497.40" y="311.16" font-size="6.0" text-anchor="end" font-weight="normal" fill="#111" stroke="#111" stroke-width="0.25" textLength="8.10" lengthAdjust="spacingAndGlyphs" >2.2</text>
<text x="497.40" y="326.06" font-size="6.0" text-anchor="end" font-weight="normal" fill="#111" stroke="#111" stroke-width="0.25" textLength="8.10" lengthAdjust="spacingAndGlyphs" >2.0</text>
<text x="497.40" y="340.86" font-size="6.0" text-anchor="end" font-weight="normal" fill="#111" stroke="#111" stroke-width="0.25" textLength="8.10" lengthAdjust="spacingAndGlyphs" >1.8</text>
<text x="497.40" y="355.86" font-size="6.0" text-anchor="end" font-weight="normal" fill="#111" stroke="#111" stroke-width="0.25" textLength="8.10" lengthAdjust="spacingAndGlyphs" >1.6</text>
<text x="497.40" y="370.66" font-size="6.0" text-anchor="end" font-weight="normal" fill="#111" stroke="#111" stroke-width="0.25" textLength="8.10" lengthAdjust="spacingAndGlyphs" >1.4</text>
<text x="497.40" y="385.06" font-size="6.0" text-anchor="end" font-weight="normal" fill="#111" stroke="#111" stroke-width="0.25" textLength="8.10" lengthAdjust="spacingAndGlyphs" >1.2</text>
<text x="497.40" y="399.56" font-size="6.0" text-anchor="end" font-weight="normal" fill="#111" stroke="#111" stroke-width="0.25" textLength="8.10" lengthAdjust="spacingAndGlyphs" >1.0</text>
<text x="497.40" y="413.26" font-size="6.0" text-anchor="end" font-weight="normal" fill="#111" stroke="#111" stroke-width="0.25" textLength="8.10" lengthAdjust="spacingAndGlyphs" >0.8</text>
<text x="497.40" y="427.16" font-size="6.0" text-anchor="end" font-weight="normal" fill="#111" stroke="#111" stroke-width="0.25" textLength="8.10" lengthAdjust="spacingAndGlyphs" >0.6</text>
<text x="528.73" y="438.76" font-size="6.0" text-anchor="middle" font-weight="normal" fill="#111" stroke="#111" stroke-width="0.25" >20</text>
<text x="556.98" y="438.76" font-size="6.0" text-anchor="middle" font-weight="normal" fill="#111" stroke="#111" stroke-width="0.25" >40</text>
<text x="585.01" y="438.76" font-size="6.0" text-anchor="middle" font-weight="normal" fill="#111" stroke="#111" stroke-width="0.25" >60</text>
<text x="613.04" y="438.76" font-size="6.0" text-anchor="middle" font-weight="normal" fill="#111" stroke="#111" stroke-width="0.25" >80</text>
<text x="640.85" y="438.76" font-size="6.0" text-anchor="middle" font-weight="normal" fill="#111" stroke="#111" stroke-width="0.25" >100</text>
<text x="497.30" y="438.76" font-size="6.0" text-anchor="middle" font-weight="normal" fill="#111" stroke="#111" stroke-width="0.25" >0</text>
<text x="579.30" y="446.05" font-size="6.6" text-anchor="middle" font-weight="normal" fill="#111" stroke="#111" stroke-width="0.2" textLength="81.00" lengthAdjust="spacing" >Ambient Temperature (°C)</text>
<text x="486.70" y="358.00" font-size="6.8" text-anchor="middle" font-weight="normal" fill="#111" stroke="#111" stroke-width="0.2" textLength="114.00" lengthAdjust="spacingAndGlyphs" transform="rotate(-90 486.70 358.00)" >Nominal Voltage Multiplying Factor</text>
<line x1="93.50" y1="464.90" x2="93.50" y2="608.30" stroke="#222" stroke-width="0.9" />
<line x1="109.50" y1="464.90" x2="109.50" y2="608.30" stroke="#6a6a6a" stroke-width="0.9" />
<line x1="121.50" y1="464.90" x2="121.50" y2="608.30" stroke="#777" stroke-width="0.9" />
<line x1="126.50" y1="464.90" x2="126.50" y2="608.30" stroke="#b0b0b0" stroke-width="0.9" />
<line x1="131.50" y1="464.90" x2="131.50" y2="608.30" stroke="#222" stroke-width="0.9" />
<line x1="135.50" y1="464.90" x2="135.50" y2="608.30" stroke="#222" stroke-width="0.9" />
<line x1="139.50" y1="464.90" x2="139.50" y2="608.30" stroke="#222" stroke-width="0.9" />
<line x1="143.50" y1="464.90" x2="143.50" y2="608.30" stroke="#222" stroke-width="0.9" />
<line x1="160.50" y1="464.90" x2="160.50" y2="608.30" stroke="#6a6a6a" stroke-width="0.9" />
<line x1="172.50" y1="464.90" x2="172.50" y2="608.30" stroke="#222" stroke-width="0.9" />
<line x1="182.50" y1="464.90" x2="182.50" y2="608.30" stroke="#999" stroke-width="0.9" />
<line x1="190.50" y1="464.90" x2="190.50" y2="608.30" stroke="#222" stroke-width="0.9" />
<line x1="194.50" y1="464.90" x2="194.50" y2="608.30" stroke="#b0b0b0" stroke-width="0.9" />
<line x1="199.50" y1="464.90" x2="199.50" y2="608.30" stroke="#777" stroke-width="0.9" />
<line x1="204.50" y1="464.90" x2="204.50" y2="608.30" stroke="#b0b0b0" stroke-width="0.9" />
<line x1="207.50" y1="464.90" x2="207.50" y2="608.30" stroke="#222" stroke-width="0.9" />
<line x1="211.50" y1="464.90" x2="211.50" y2="608.30" stroke="#6a6a6a" stroke-width="0.9" />
<line x1="77.70" y1="502.50" x2="233.70" y2="502.50" stroke="#2a2a2a" stroke-width="0.9" />
<line x1="77.70" y1="527.50" x2="233.70" y2="527.50" stroke="#2a2a2a" stroke-width="0.9" />
<line x1="77.70" y1="549.50" x2="233.70" y2="549.50" stroke="#2a2a2a" stroke-width="0.9" />
<line x1="77.70" y1="558.50" x2="233.70" y2="558.50" stroke="#2a2a2a" stroke-width="0.9" />
<line x1="77.70" y1="568.50" x2="233.70" y2="568.50" stroke="#2a2a2a" stroke-width="0.9" />
<line x1="77.70" y1="582.50" x2="233.70" y2="582.50" stroke="#2a2a2a" stroke-width="0.9" />
<rect x="77.40" y="464.40" width="156.00" height="144.00" fill="none" stroke="#1a1a1a" stroke-width="1.2" />
<rect x="190.00" y="482.60" width="33.00" height="9.80" fill="#fff" stroke="none" stroke-width="1" />
<rect x="194.00" y="499.80" width="37.80" height="9.40" fill="#fff" stroke="none" stroke-width="1" />
<path d="M189.10,487.60 L184.20,487.60 L179.40,507.70" fill="none" stroke="#222" stroke-width="0.7" stroke-linejoin="round" />
<path d="M193.10,504.20 L189.10,504.20 L185.00,515.00" fill="none" stroke="#222" stroke-width="0.7" stroke-linejoin="round" />
<path d="M172.70,502.00 L215.40,568.60 L215.40,608.30" fill="none" stroke="#000" stroke-width="1.25" stroke-linejoin="round" />
<path d="M172.70,502.00 L218.60,549.30 L218.60,608.30" fill="none" stroke="#000" stroke-width="1.0" stroke-linejoin="round" stroke-dasharray="3.4 1.2"/>
<text x="153.70" y="461.10" font-size="10.2" text-anchor="middle" font-weight="bold" fill="#000" stroke="#000" stroke-width="0.2" textLength="139.20" lengthAdjust="spacingAndGlyphs" xml:space="preserve">Maximum  Switching  Power</text>
<text x="74.70" y="504.09" font-size="5.8" text-anchor="end" font-weight="normal" fill="#111" stroke="#111" stroke-width="0.3" >2</text>
<text x="74.70" y="529.59" font-size="5.8" text-anchor="end" font-weight="normal" fill="#111" stroke="#111" stroke-width="0.3" >1</text>
<text x="74.70" y="551.59" font-size="5.8" text-anchor="end" font-weight="normal" fill="#111" stroke="#111" stroke-width="0.3" >0.5</text>
<text x="74.70" y="560.69" font-size="5.8" text-anchor="end" font-weight="normal" fill="#111" stroke="#111" stroke-width="0.3" >0.4</text>
<text x="74.70" y="570.79" font-size="5.8" text-anchor="end" font-weight="normal" fill="#111" stroke="#111" stroke-width="0.3" >0.3</text>
<text x="74.70" y="584.49" font-size="5.8" text-anchor="end" font-weight="normal" fill="#111" stroke="#111" stroke-width="0.3" >0.2</text>
<text x="74.70" y="610.49" font-size="5.8" text-anchor="end" font-weight="normal" fill="#111" stroke="#111" stroke-width="0.3" >0.1</text>
<text x="79.00" y="615.59" font-size="5.8" text-anchor="middle" font-weight="normal" fill="#111" stroke="#111" stroke-width="0.3" >1</text>
<text x="120.40" y="615.59" font-size="5.8" text-anchor="middle" font-weight="normal" fill="#111" stroke="#111" stroke-width="0.3" >5</text>
<text x="142.70" y="615.59" font-size="5.8" text-anchor="middle" font-weight="normal" fill="#111" stroke="#111" stroke-width="0.3" >10</text>
<text x="172.60" y="615.59" font-size="5.8" text-anchor="middle" font-weight="normal" fill="#111" stroke="#111" stroke-width="0.3" >30</text>
<text x="190.10" y="615.59" font-size="5.8" text-anchor="middle" font-weight="normal" fill="#111" stroke="#111" stroke-width="0.3" >50</text>
<text x="211.30" y="615.59" font-size="5.8" text-anchor="middle" font-weight="normal" fill="#111" stroke="#111" stroke-width="0.3" >100</text>
<text x="154.40" y="628.80" font-size="7.5" text-anchor="middle" font-weight="normal" fill="#1a1a1a" stroke="#1a1a1a" stroke-width="0.1" textLength="65.00" lengthAdjust="spacing" xml:space="preserve">Contact  Voltage(V)</text>
<text x="63.90" y="533.80" font-size="7.0" text-anchor="middle" font-weight="normal" fill="#111" stroke="#111" stroke-width="0.2" textLength="64.00" lengthAdjust="spacingAndGlyphs" transform="rotate(-90 63.90 533.80)" >Contact Current (A)</text>
<text x="191.10" y="489.76" font-size="6" text-anchor="start" font-weight="normal" fill="#111" stroke="#111" stroke-width="0.2" textLength="30.60" lengthAdjust="spacingAndGlyphs" >AC Resistive</text>
<text x="195.20" y="506.56" font-size="6" text-anchor="start" font-weight="normal" fill="#111" stroke="#111" stroke-width="0.2" textLength="30.50" lengthAdjust="spacingAndGlyphs" >DC Resistive</text>
<line x1="303.50" y1="466.39" x2="303.50" y2="613.38" stroke="#2a2a2a" stroke-width="0.9" />
<line x1="317.50" y1="466.39" x2="317.50" y2="613.38" stroke="#2a2a2a" stroke-width="0.9" />
<line x1="331.50" y1="466.39" x2="331.50" y2="613.38" stroke="#2a2a2a" stroke-width="0.9" />
<line x1="345.50" y1="466.39" x2="345.50" y2="613.38" stroke="#2a2a2a" stroke-width="0.9" />
<line x1="359.50" y1="466.39" x2="359.50" y2="613.38" stroke="#2a2a2a" stroke-width="0.9" />
<line x1="373.50" y1="466.39" x2="373.50" y2="613.38" stroke="#2a2a2a" stroke-width="0.9" />
<line x1="387.50" y1="466.39" x2="387.50" y2="613.38" stroke="#2a2a2a" stroke-width="0.9" />
<line x1="401.50" y1="466.39" x2="401.50" y2="613.38" stroke="#2a2a2a" stroke-width="0.9" />
<line x1="415.50" y1="466.39" x2="415.50" y2="613.38" stroke="#2a2a2a" stroke-width="0.9" />
<line x1="429.50" y1="466.39" x2="429.50" y2="613.38" stroke="#2a2a2a" stroke-width="0.9" />
<line x1="289.80" y1="473.50" x2="442.94" y2="473.50" stroke="#2a2a2a" stroke-width="0.9" />
<line x1="289.80" y1="482.50" x2="442.94" y2="482.50" stroke="#2a2a2a" stroke-width="0.9" />
<line x1="289.80" y1="494.50" x2="442.94" y2="494.50" stroke="#2a2a2a" stroke-width="0.9" />
<line x1="289.80" y1="516.50" x2="442.94" y2="516.50" stroke="#2a2a2a" stroke-width="0.9" />
<line x1="289.80" y1="538.50" x2="442.94" y2="538.50" stroke="#2a2a2a" stroke-width="0.9" />
<line x1="289.80" y1="546.50" x2="442.94" y2="546.50" stroke="#2a2a2a" stroke-width="0.9" />
<line x1="289.80" y1="555.50" x2="442.94" y2="555.50" stroke="#2a2a2a" stroke-width="0.9" />
<line x1="289.80" y1="568.50" x2="442.94" y2="568.50" stroke="#2a2a2a" stroke-width="0.9" />
<line x1="289.80" y1="591.50" x2="442.94" y2="591.50" stroke="#2a2a2a" stroke-width="0.9" />
<rect x="289.40" y="466.40" width="153.00" height="147.00" fill="none" stroke="#1a1a1a" stroke-width="1.2" />
<line x1="289.80" y1="539.06" x2="442.94" y2="539.06" stroke="#555" stroke-width="1.9" />
<line x1="289.80" y1="482.35" x2="442.94" y2="482.35" stroke="#777" stroke-width="1.6" />
<rect x="370.70" y="496.02" width="59.02" height="6.84" fill="#fff" stroke="none" stroke-width="1" />
<rect x="355.43" y="558.69" width="61.76" height="6.84" fill="#fff" stroke="none" stroke-width="1" />
<path d="M323.30,468.67 C324.63,469.81 327.55,472.09 331.27,475.51 C335.00,478.93 340.96,485.19 345.63,489.18 C350.30,493.17 354.67,496.21 359.30,499.44 C363.94,502.67 368.80,505.63 373.43,508.55 C378.07,511.48 382.47,514.21 387.11,516.98 C391.74,519.76 396.60,522.61 401.23,525.19 C405.87,527.77 410.31,530.16 414.91,532.48 C419.50,534.80 426.49,537.99 428.81,539.09" fill="none" stroke="#000" stroke-width="1.3" stroke-linejoin="round" />
<path d="M298.23,481.21 C299.10,483.60 301.57,490.63 303.47,495.56 C305.37,500.50 307.27,505.44 309.62,510.83 C311.98,516.22 313.99,521.85 317.60,527.92 C321.21,534.00 326.60,541.98 331.27,547.29 C335.95,552.61 340.96,556.33 345.63,559.83 C350.30,563.32 357.02,566.85 359.30,568.26" fill="none" stroke="#000" stroke-width="1.3" stroke-linejoin="round" />
<line x1="359.30" y1="568.26" x2="359.30" y2="613.38" stroke="#000" stroke-width="1.3" />
<text x="365.20" y="463.70" font-size="10" text-anchor="middle" font-weight="bold" fill="#000" stroke="#000" stroke-width="0.2" textLength="54.20" lengthAdjust="spacingAndGlyphs" xml:space="preserve">Life  Curves</text>
<text x="288.60" y="468.17" font-size="6.2" text-anchor="end" font-weight="normal" fill="#111" stroke="#111" stroke-width="0.2" >5000</text>
<text x="288.60" y="475.46" font-size="6.2" text-anchor="end" font-weight="normal" fill="#111" stroke="#111" stroke-width="0.2" >4000</text>
<text x="288.60" y="484.58" font-size="6.2" text-anchor="end" font-weight="normal" fill="#111" stroke="#111" stroke-width="0.2" >3000</text>
<text x="288.60" y="497.11" font-size="6.2" text-anchor="end" font-weight="normal" fill="#111" stroke="#111" stroke-width="0.2" >2000</text>
<text x="288.60" y="518.76" font-size="6.2" text-anchor="end" font-weight="normal" fill="#111" stroke="#111" stroke-width="0.2" >1000</text>
<text x="288.60" y="541.09" font-size="6.2" text-anchor="end" font-weight="normal" fill="#111" stroke="#111" stroke-width="0.2" >500</text>
<text x="288.60" y="548.84" font-size="6.2" text-anchor="end" font-weight="normal" fill="#111" stroke="#111" stroke-width="0.2" >400</text>
<text x="288.60" y="557.50" font-size="6.2" text-anchor="end" font-weight="normal" fill="#111" stroke="#111" stroke-width="0.2" >300</text>
<text x="288.60" y="570.49" font-size="6.2" text-anchor="end" font-weight="normal" fill="#111" stroke="#111" stroke-width="0.2" >200</text>
<text x="288.60" y="593.96" font-size="6.2" text-anchor="end" font-weight="normal" fill="#111" stroke="#111" stroke-width="0.2" >100</text>
<text x="287.98" y="620.83" font-size="6.2" text-anchor="middle" font-weight="normal" fill="#111" stroke="#111" stroke-width="0.35" letter-spacing="0.6">0</text>
<text x="317.60" y="620.83" font-size="6.2" text-anchor="middle" font-weight="normal" fill="#111" stroke="#111" stroke-width="0.35" letter-spacing="0.6">0.2</text>
<text x="345.63" y="620.83" font-size="6.2" text-anchor="middle" font-weight="normal" fill="#111" stroke="#111" stroke-width="0.35" letter-spacing="0.6">0.4</text>
<text x="373.43" y="620.83" font-size="6.2" text-anchor="middle" font-weight="normal" fill="#111" stroke="#111" stroke-width="0.35" letter-spacing="0.6">0.6</text>
<text x="401.23" y="620.83" font-size="6.2" text-anchor="middle" font-weight="normal" fill="#111" stroke="#111" stroke-width="0.35" letter-spacing="0.6">0.8</text>
<text x="428.81" y="620.83" font-size="6.2" text-anchor="middle" font-weight="normal" fill="#111" stroke="#111" stroke-width="0.35" letter-spacing="0.6">1.0</text>
<text x="362.00" y="631.28" font-size="8" text-anchor="middle" font-weight="normal" fill="#222" stroke="#222" stroke-width="0.2" textLength="63.00" lengthAdjust="spacingAndGlyphs" xml:space="preserve">Contact  Current(A)</text>
<text x="273" y="529.6" font-size="7.4" text-anchor="middle" fill="#111" stroke="#111" stroke-width="0.2" transform="rotate(-90 273 529.6)">Operation ( × 10<tspan dy="-2.4" font-size="5">2</tspan><tspan dy="2.4">)</tspan></text>
<text x="371.15" y="502.03" font-size="7.2" text-anchor="start" font-weight="normal" fill="#222" textLength="58.00" lengthAdjust="spacing" >30VDC(Resistive)</text>
<text x="355.89" y="564.70" font-size="7.2" text-anchor="start" font-weight="normal" fill="#222" textLength="60.80" lengthAdjust="spacing" >125VAC(Resistive)</text>
<line x1="94.50" y1="679.17" x2="94.50" y2="824.43" stroke="#111" stroke-width="1.05" />
<line x1="104.50" y1="679.17" x2="104.50" y2="824.43" stroke="#111" stroke-width="1.05" />
<line x1="110.50" y1="679.17" x2="110.50" y2="824.43" stroke="#111" stroke-width="1.05" />
<line x1="116.50" y1="679.17" x2="116.50" y2="824.43" stroke="#111" stroke-width="1.05" />
<line x1="120.50" y1="679.17" x2="120.50" y2="824.43" stroke="#111" stroke-width="1.05" />
<line x1="124.50" y1="679.17" x2="124.50" y2="824.43" stroke="#111" stroke-width="1.05" />
<line x1="127.50" y1="679.17" x2="127.50" y2="824.43" stroke="#111" stroke-width="1.05" />
<line x1="129.50" y1="679.17" x2="129.50" y2="824.43" stroke="#111" stroke-width="1.05" />
<line x1="132.50" y1="679.17" x2="132.50" y2="824.43" stroke="#111" stroke-width="1.05" />
<line x1="148.50" y1="679.17" x2="148.50" y2="824.43" stroke="#111" stroke-width="1.05" />
<line x1="157.50" y1="679.17" x2="157.50" y2="824.43" stroke="#111" stroke-width="1.05" />
<line x1="164.50" y1="679.17" x2="164.50" y2="824.43" stroke="#111" stroke-width="1.05" />
<line x1="169.50" y1="679.17" x2="169.50" y2="824.43" stroke="#111" stroke-width="1.05" />
<line x1="173.50" y1="679.17" x2="173.50" y2="824.43" stroke="#111" stroke-width="1.05" />
<line x1="177.50" y1="679.17" x2="177.50" y2="824.43" stroke="#111" stroke-width="1.05" />
<line x1="180.50" y1="679.17" x2="180.50" y2="824.43" stroke="#111" stroke-width="1.05" />
<line x1="182.50" y1="679.17" x2="182.50" y2="824.43" stroke="#111" stroke-width="1.05" />
<line x1="185.50" y1="679.17" x2="185.50" y2="824.43" stroke="#111" stroke-width="1.05" />
<line x1="200.50" y1="679.17" x2="200.50" y2="824.43" stroke="#111" stroke-width="1.05" />
<line x1="210.50" y1="679.17" x2="210.50" y2="824.43" stroke="#111" stroke-width="1.05" />
<line x1="216.50" y1="679.17" x2="216.50" y2="824.43" stroke="#111" stroke-width="1.05" />
<line x1="221.50" y1="679.17" x2="221.50" y2="824.43" stroke="#111" stroke-width="1.05" />
<line x1="225.50" y1="679.17" x2="225.50" y2="824.43" stroke="#111" stroke-width="1.05" />
<line x1="229.50" y1="679.17" x2="229.50" y2="824.43" stroke="#111" stroke-width="1.05" />
<line x1="232.50" y1="679.17" x2="232.50" y2="824.43" stroke="#111" stroke-width="1.05" />
<line x1="234.50" y1="679.17" x2="234.50" y2="824.43" stroke="#111" stroke-width="1.05" />
<line x1="78.50" y1="688.50" x2="237.20" y2="688.50" stroke="#111" stroke-width="1.05" />
<line x1="78.50" y1="698.50" x2="237.20" y2="698.50" stroke="#111" stroke-width="1.05" />
<line x1="78.50" y1="708.50" x2="237.20" y2="708.50" stroke="#111" stroke-width="1.05" />
<line x1="78.50" y1="717.50" x2="237.20" y2="717.50" stroke="#111" stroke-width="1.05" />
<line x1="78.50" y1="727.50" x2="237.20" y2="727.50" stroke="#111" stroke-width="1.05" />
<line x1="78.50" y1="737.50" x2="237.20" y2="737.50" stroke="#111" stroke-width="1.05" />
<line x1="78.50" y1="747.50" x2="237.20" y2="747.50" stroke="#111" stroke-width="1.05" />
<line x1="78.50" y1="756.50" x2="237.20" y2="756.50" stroke="#111" stroke-width="1.05" />
<line x1="78.50" y1="766.50" x2="237.20" y2="766.50" stroke="#111" stroke-width="1.05" />
<line x1="78.50" y1="776.50" x2="237.20" y2="776.50" stroke="#111" stroke-width="1.05" />
<line x1="78.50" y1="786.50" x2="237.20" y2="786.50" stroke="#111" stroke-width="1.05" />
<line x1="78.50" y1="795.50" x2="237.20" y2="795.50" stroke="#111" stroke-width="1.05" />
<line x1="78.50" y1="805.50" x2="237.20" y2="805.50" stroke="#111" stroke-width="1.05" />
<line x1="78.50" y1="815.50" x2="237.20" y2="815.50" stroke="#111" stroke-width="1.05" />
<rect x="78.50" y="679.50" width="159.00" height="145.00" fill="none" stroke="#111" stroke-width="1.1" />
<line x1="78.93" y1="737.56" x2="237.21" y2="802.71" stroke="#111" stroke-width="1.0"/>
<rect x="139.73" y="691.23" width="38.85" height="16.89" fill="#fff" stroke="none" stroke-width="1" />
<rect x="139.73" y="708.12" width="98.20" height="48.02" fill="#fff" stroke="none" stroke-width="1" />
<text x="141.30" y="698.77" font-size="6.6" text-anchor="start" font-weight="normal" fill="#000" stroke="#000" stroke-width="0.12" textLength="31.80" lengthAdjust="spacingAndGlyphs" >NA-12W-K</text>
<text x="141.30" y="707.97" font-size="6.6" text-anchor="start" font-weight="normal" fill="#000" stroke="#000" stroke-width="0.12" textLength="11.30" lengthAdjust="spacingAndGlyphs" >n=2</text>
<text x="141.30" y="717.88" font-size="6.6" text-anchor="start" font-weight="normal" fill="#000" stroke="#000" stroke-width="0.12" textLength="88.60" lengthAdjust="spacingAndGlyphs" >Transmission Impedance 75Ω</text>
<text x="141.30" y="726.88" font-size="6.6" text-anchor="start" font-weight="normal" fill="#000" stroke="#000" stroke-width="0.12" textLength="90.70" lengthAdjust="spacingAndGlyphs" >Note: In standard PC board for</text>
<text x="141.30" y="736.08" font-size="6.6" text-anchor="start" font-weight="normal" fill="#000" stroke="#000" stroke-width="0.12" textLength="41.00" lengthAdjust="spacingAndGlyphs" >measurement</text>
<text x="141.30" y="746.07" font-size="6.6" text-anchor="start" font-weight="normal" fill="#000" stroke="#000" stroke-width="0.12" textLength="85.60" lengthAdjust="spacingAndGlyphs" >betweem common and make</text>
<text x="141.30" y="755.07" font-size="6.6" text-anchor="start" font-weight="normal" fill="#000" stroke="#000" stroke-width="0.12" textLength="24.50" lengthAdjust="spacingAndGlyphs" >contacts</text>
<text x="160.00" y="663.69" font-size="12.2" text-anchor="middle" font-weight="normal" fill="#111" stroke="#111" stroke-width="0.06" textLength="167.00" lengthAdjust="spacingAndGlyphs" >High Frequency Characteristics</text>
<text x="160.00" y="673.39" font-size="12.2" text-anchor="middle" font-weight="normal" fill="#111" stroke="#111" stroke-width="0.06" textLength="52.00" lengthAdjust="spacingAndGlyphs" >(Isolation)</text>
<text x="76.00" y="682.98" font-size="6.6" text-anchor="end" font-weight="normal" fill="#000" stroke="#000" stroke-width="0.1" >150</text>
<text x="76.00" y="731.14" font-size="6.6" text-anchor="end" font-weight="normal" fill="#000" stroke="#000" stroke-width="0.1" >100</text>
<text x="76.00" y="779.31" font-size="6.6" text-anchor="end" font-weight="normal" fill="#000" stroke="#000" stroke-width="0.1" >50</text>
<text x="76.00" y="827.48" font-size="6.6" text-anchor="end" font-weight="normal" fill="#000" stroke="#000" stroke-width="0.1" >0</text>
<text x="78.50" y="832.06" font-size="6.7" text-anchor="middle" font-weight="normal" fill="#000" stroke="#000" stroke-width="0.1">1</text>
<text x="104.22" y="832.06" font-size="6.7" text-anchor="middle" font-weight="normal" fill="#000" stroke="#000" stroke-width="0.1">3</text>
<text x="116.17" y="832.06" font-size="6.7" text-anchor="middle" font-weight="normal" fill="#000" stroke="#000" stroke-width="0.1">5</text>
<text x="124.05" y="832.06" font-size="6.7" text-anchor="middle" font-weight="normal" fill="#000" stroke="#000" stroke-width="0.1">7</text>
<text x="132.10" y="832.06" font-size="6.7" text-anchor="middle" font-weight="normal" fill="#000" stroke="#000" stroke-width="0.1">10</text>
<text x="158.54" y="832.06" font-size="6.7" text-anchor="middle" font-weight="normal" fill="#000" textLength="6.50" lengthAdjust="spacingAndGlyphs" stroke="#000" stroke-width="0.22">30</text>
<text x="169.58" y="832.06" font-size="6.7" text-anchor="middle" font-weight="normal" fill="#000" textLength="4.70" lengthAdjust="spacingAndGlyphs" stroke="#000" stroke-width="0.22">50</text>
<text x="177.61" y="832.06" font-size="6.7" text-anchor="middle" font-weight="normal" fill="#000" textLength="4.70" lengthAdjust="spacingAndGlyphs" stroke="#000" stroke-width="0.22">70</text>
<text x="186.20" y="832.06" font-size="6.7" text-anchor="middle" font-weight="normal" fill="#000" textLength="6.60" lengthAdjust="spacingAndGlyphs" stroke="#000" stroke-width="0.22">100</text>
<text x="208.56" y="832.06" font-size="6.7" text-anchor="middle" font-weight="normal" fill="#000" textLength="6.90" lengthAdjust="spacingAndGlyphs" stroke="#000" stroke-width="0.22">300</text>
<text x="216.98" y="832.06" font-size="6.7" text-anchor="middle" font-weight="normal" fill="#000" textLength="7.00" lengthAdjust="spacingAndGlyphs" stroke="#000" stroke-width="0.22">500</text>
<text x="226.56" y="832.06" font-size="6.7" text-anchor="middle" font-weight="normal" fill="#000" textLength="7.00" lengthAdjust="spacingAndGlyphs" stroke="#000" stroke-width="0.22">700</text>
<text x="237.90" y="832.06" font-size="6.7" text-anchor="middle" font-weight="normal" fill="#000" textLength="8.80" lengthAdjust="spacingAndGlyphs" stroke="#000" stroke-width="0.22">1000</text>
<text x="178.60" y="842.49" font-size="12.2" text-anchor="middle" font-weight="normal" fill="#111" stroke="#111" stroke-width="0.06" textLength="91.70" lengthAdjust="spacingAndGlyphs" >Frequency (MHz)</text>
<text x="60.60" y="761.00" font-size="12.2" text-anchor="middle" font-weight="normal" fill="#111" stroke="#111" stroke-width="0.06" textLength="71.00" lengthAdjust="spacingAndGlyphs" transform="rotate(-90 60.60 761.00)" >Isolation (dB)</text>
<line x1="302.50" y1="677.72" x2="302.50" y2="822.74" stroke="#111" stroke-width="1.05" />
<line x1="311.50" y1="677.72" x2="311.50" y2="822.74" stroke="#111" stroke-width="1.05" />
<line x1="318.50" y1="677.72" x2="318.50" y2="822.74" stroke="#111" stroke-width="1.05" />
<line x1="323.50" y1="677.72" x2="323.50" y2="822.74" stroke="#111" stroke-width="1.05" />
<line x1="327.50" y1="677.72" x2="327.50" y2="822.74" stroke="#111" stroke-width="1.05" />
<line x1="331.50" y1="677.72" x2="331.50" y2="822.74" stroke="#111" stroke-width="1.05" />
<line x1="334.50" y1="677.72" x2="334.50" y2="822.74" stroke="#111" stroke-width="1.05" />
<line x1="336.50" y1="677.72" x2="336.50" y2="822.74" stroke="#111" stroke-width="1.05" />
<line x1="339.50" y1="677.72" x2="339.50" y2="822.74" stroke="#111" stroke-width="1.05" />
<line x1="355.50" y1="677.72" x2="355.50" y2="822.74" stroke="#111" stroke-width="1.05" />
<line x1="364.50" y1="677.72" x2="364.50" y2="822.74" stroke="#111" stroke-width="1.05" />
<line x1="371.50" y1="677.72" x2="371.50" y2="822.74" stroke="#111" stroke-width="1.05" />
<line x1="376.50" y1="677.72" x2="376.50" y2="822.74" stroke="#111" stroke-width="1.05" />
<line x1="380.50" y1="677.72" x2="380.50" y2="822.74" stroke="#111" stroke-width="1.05" />
<line x1="384.50" y1="677.72" x2="384.50" y2="822.74" stroke="#111" stroke-width="1.05" />
<line x1="387.50" y1="677.72" x2="387.50" y2="822.74" stroke="#111" stroke-width="1.05" />
<line x1="390.50" y1="677.72" x2="390.50" y2="822.74" stroke="#111" stroke-width="1.05" />
<line x1="392.50" y1="677.72" x2="392.50" y2="822.74" stroke="#111" stroke-width="1.05" />
<line x1="408.50" y1="677.72" x2="408.50" y2="822.74" stroke="#111" stroke-width="1.05" />
<line x1="417.50" y1="677.72" x2="417.50" y2="822.74" stroke="#111" stroke-width="1.05" />
<line x1="423.50" y1="677.72" x2="423.50" y2="822.74" stroke="#111" stroke-width="1.05" />
<line x1="428.50" y1="677.72" x2="428.50" y2="822.74" stroke="#111" stroke-width="1.05" />
<line x1="432.50" y1="677.72" x2="432.50" y2="822.74" stroke="#111" stroke-width="1.05" />
<line x1="436.50" y1="677.72" x2="436.50" y2="822.74" stroke="#111" stroke-width="1.05" />
<line x1="439.50" y1="677.72" x2="439.50" y2="822.74" stroke="#111" stroke-width="1.05" />
<line x1="441.50" y1="677.72" x2="441.50" y2="822.74" stroke="#111" stroke-width="1.05" />
<line x1="286.30" y1="693.50" x2="444.30" y2="693.50" stroke="#111" stroke-width="1.05" />
<line x1="286.30" y1="709.50" x2="444.30" y2="709.50" stroke="#111" stroke-width="1.05" />
<line x1="286.30" y1="725.50" x2="444.30" y2="725.50" stroke="#111" stroke-width="1.05" />
<line x1="286.30" y1="742.50" x2="444.30" y2="742.50" stroke="#111" stroke-width="1.05" />
<line x1="286.30" y1="758.50" x2="444.30" y2="758.50" stroke="#111" stroke-width="1.05" />
<line x1="286.30" y1="774.50" x2="444.30" y2="774.50" stroke="#111" stroke-width="1.05" />
<line x1="286.30" y1="790.50" x2="444.30" y2="790.50" stroke="#111" stroke-width="1.05" />
<line x1="286.30" y1="806.50" x2="444.30" y2="806.50" stroke="#111" stroke-width="1.05" />
<rect x="286.50" y="677.50" width="158.00" height="145.00" fill="none" stroke="#111" stroke-width="1.1" />
<path d="M286.40,822.30 C295.33,822.28 324.40,822.28 340.00,822.20 C355.60,822.12 371.18,821.98 380.00,821.80 C388.82,821.62 388.35,821.60 392.90,821.10 C397.45,820.60 403.20,819.87 407.30,818.80 C411.40,817.73 414.00,816.63 417.50,814.70 C421.00,812.77 425.25,810.07 428.30,807.20 C431.35,804.33 433.93,800.37 435.80,797.50 C437.67,794.63 438.43,792.68 439.50,790.00 C440.57,787.32 441.48,784.43 442.20,781.40 C442.92,778.37 443.45,774.65 443.80,771.80 C444.15,768.95 444.22,765.55 444.30,764.30" fill="none" stroke="#111" stroke-width="1.0"/><line x1="296" y1="821.7" x2="396" y2="821.7" stroke="#8a8a8a" stroke-width="1.1"/><line x1="286.41" y1="822.25" x2="296.54" y2="822.25" stroke="#000" stroke-width="1.6"/>
<rect x="338.77" y="691.96" width="37.88" height="16.17" fill="#fff" stroke="none" stroke-width="1" />
<rect x="338.77" y="708.12" width="96.64" height="48.89" fill="#fff" stroke="none" stroke-width="1" />
<text x="340.50" y="699.88" font-size="6.6" text-anchor="start" font-weight="normal" fill="#000" stroke="#000" stroke-width="0.12" textLength="31.80" lengthAdjust="spacingAndGlyphs" >NA-12W-K</text>
<text x="340.50" y="709.08" font-size="6.6" text-anchor="start" font-weight="normal" fill="#000" stroke="#000" stroke-width="0.12" textLength="11.30" lengthAdjust="spacingAndGlyphs" >n=2</text>
<text x="340.50" y="718.08" font-size="6.6" text-anchor="start" font-weight="normal" fill="#000" stroke="#000" stroke-width="0.12" textLength="88.60" lengthAdjust="spacingAndGlyphs" >Transmission Impedance 75Ω</text>
<text x="340.50" y="728.07" font-size="6.6" text-anchor="start" font-weight="normal" fill="#000" stroke="#000" stroke-width="0.12" textLength="90.70" lengthAdjust="spacingAndGlyphs" >Note: In standard PC board for</text>
<text x="340.50" y="736.87" font-size="6.6" text-anchor="start" font-weight="normal" fill="#000" stroke="#000" stroke-width="0.12" textLength="41.00" lengthAdjust="spacingAndGlyphs" >measurement</text>
<text x="340.50" y="746.07" font-size="6.6" text-anchor="start" font-weight="normal" fill="#000" stroke="#000" stroke-width="0.12" textLength="85.60" lengthAdjust="spacingAndGlyphs" >betweem common and make</text>
<text x="340.50" y="756.18" font-size="6.6" text-anchor="start" font-weight="normal" fill="#000" stroke="#000" stroke-width="0.12" textLength="24.50" lengthAdjust="spacingAndGlyphs" >contacts</text>
<text x="359.40" y="663.69" font-size="12.2" text-anchor="middle" font-weight="normal" fill="#111" stroke="#111" stroke-width="0.06" textLength="167.00" lengthAdjust="spacingAndGlyphs" >High Frequency Characteristics</text>
<text x="359.40" y="673.89" font-size="12.2" text-anchor="middle" font-weight="normal" fill="#111" stroke="#111" stroke-width="0.06" textLength="83.00" lengthAdjust="spacingAndGlyphs" >(Insertion Loss)</text>
<text x="283.60" y="680.78" font-size="6.6" text-anchor="end" font-weight="normal" fill="#000" stroke="#000" stroke-width="0.1" >1.8</text>
<text x="283.60" y="696.93" font-size="6.6" text-anchor="end" font-weight="normal" fill="#000" stroke="#000" stroke-width="0.1" >1.6</text>
<text x="283.60" y="713.09" font-size="6.6" text-anchor="end" font-weight="normal" fill="#000" stroke="#000" stroke-width="0.1" >1.4</text>
<text x="283.60" y="729.24" font-size="6.6" text-anchor="end" font-weight="normal" fill="#000" stroke="#000" stroke-width="0.1" >1.2</text>
<text x="283.60" y="745.40" font-size="6.6" text-anchor="end" font-weight="normal" fill="#000" stroke="#000" stroke-width="0.1" >1.0</text>
<text x="283.60" y="761.55" font-size="6.6" text-anchor="end" font-weight="normal" fill="#000" stroke="#000" stroke-width="0.1" >0.8</text>
<text x="283.60" y="777.71" font-size="6.6" text-anchor="end" font-weight="normal" fill="#000" stroke="#000" stroke-width="0.1" >0.6</text>
<text x="283.60" y="793.86" font-size="6.6" text-anchor="end" font-weight="normal" fill="#000" stroke="#000" stroke-width="0.1" >0.4</text>
<text x="283.60" y="810.02" font-size="6.6" text-anchor="end" font-weight="normal" fill="#000" stroke="#000" stroke-width="0.1" >0.2</text>
<text x="283.60" y="826.18" font-size="6.6" text-anchor="end" font-weight="normal" fill="#000" stroke="#000" stroke-width="0.1" >0</text>
<text x="286.30" y="831.34" font-size="6.7" text-anchor="middle" font-weight="normal" fill="#000" stroke="#000" stroke-width="0.1">1</text>
<text x="311.64" y="831.34" font-size="6.7" text-anchor="middle" font-weight="normal" fill="#000" stroke="#000" stroke-width="0.1">3</text>
<text x="323.42" y="831.34" font-size="6.7" text-anchor="middle" font-weight="normal" fill="#000" stroke="#000" stroke-width="0.1">5</text>
<text x="331.17" y="831.34" font-size="6.7" text-anchor="middle" font-weight="normal" fill="#000" stroke="#000" stroke-width="0.1">7</text>
<text x="340.10" y="831.34" font-size="6.7" text-anchor="middle" font-weight="normal" fill="#000" stroke="#000" stroke-width="0.1">10</text>
<text x="364.93" y="831.34" font-size="6.7" text-anchor="middle" font-weight="normal" fill="#000" textLength="6.50" lengthAdjust="spacingAndGlyphs" stroke="#000" stroke-width="0.22">30</text>
<text x="376.76" y="831.34" font-size="6.7" text-anchor="middle" font-weight="normal" fill="#000" textLength="4.70" lengthAdjust="spacingAndGlyphs" stroke="#000" stroke-width="0.22">50</text>
<text x="384.24" y="831.34" font-size="6.7" text-anchor="middle" font-weight="normal" fill="#000" textLength="4.70" lengthAdjust="spacingAndGlyphs" stroke="#000" stroke-width="0.22">70</text>
<text x="392.90" y="831.34" font-size="6.7" text-anchor="middle" font-weight="normal" fill="#000" textLength="6.60" lengthAdjust="spacingAndGlyphs" stroke="#000" stroke-width="0.22">100</text>
<text x="417.12" y="831.34" font-size="6.7" text-anchor="middle" font-weight="normal" fill="#000" textLength="6.90" lengthAdjust="spacingAndGlyphs" stroke="#000" stroke-width="0.22">300</text>
<text x="429.07" y="831.34" font-size="6.7" text-anchor="middle" font-weight="normal" fill="#000" textLength="7.00" lengthAdjust="spacingAndGlyphs" stroke="#000" stroke-width="0.22">500</text>
<text x="436.71" y="831.34" font-size="6.7" text-anchor="middle" font-weight="normal" fill="#000" textLength="7.00" lengthAdjust="spacingAndGlyphs" stroke="#000" stroke-width="0.22">700</text>
<text x="445.70" y="831.34" font-size="6.7" text-anchor="middle" font-weight="normal" fill="#000" textLength="8.80" lengthAdjust="spacingAndGlyphs" stroke="#000" stroke-width="0.22">1000</text>
<text x="377.70" y="843.79" font-size="12.2" text-anchor="middle" font-weight="normal" fill="#111" stroke="#111" stroke-width="0.06" textLength="91.70" lengthAdjust="spacingAndGlyphs" >Frequency (MHz)</text>
<text x="260.00" y="746.20" font-size="12.2" text-anchor="middle" font-weight="normal" fill="#111" stroke="#111" stroke-width="0.06" textLength="101.00" lengthAdjust="spacingAndGlyphs" transform="rotate(-90 260.00 746.20)" >Insertion Loss (dB)</text>
</svg>
</body></html>
